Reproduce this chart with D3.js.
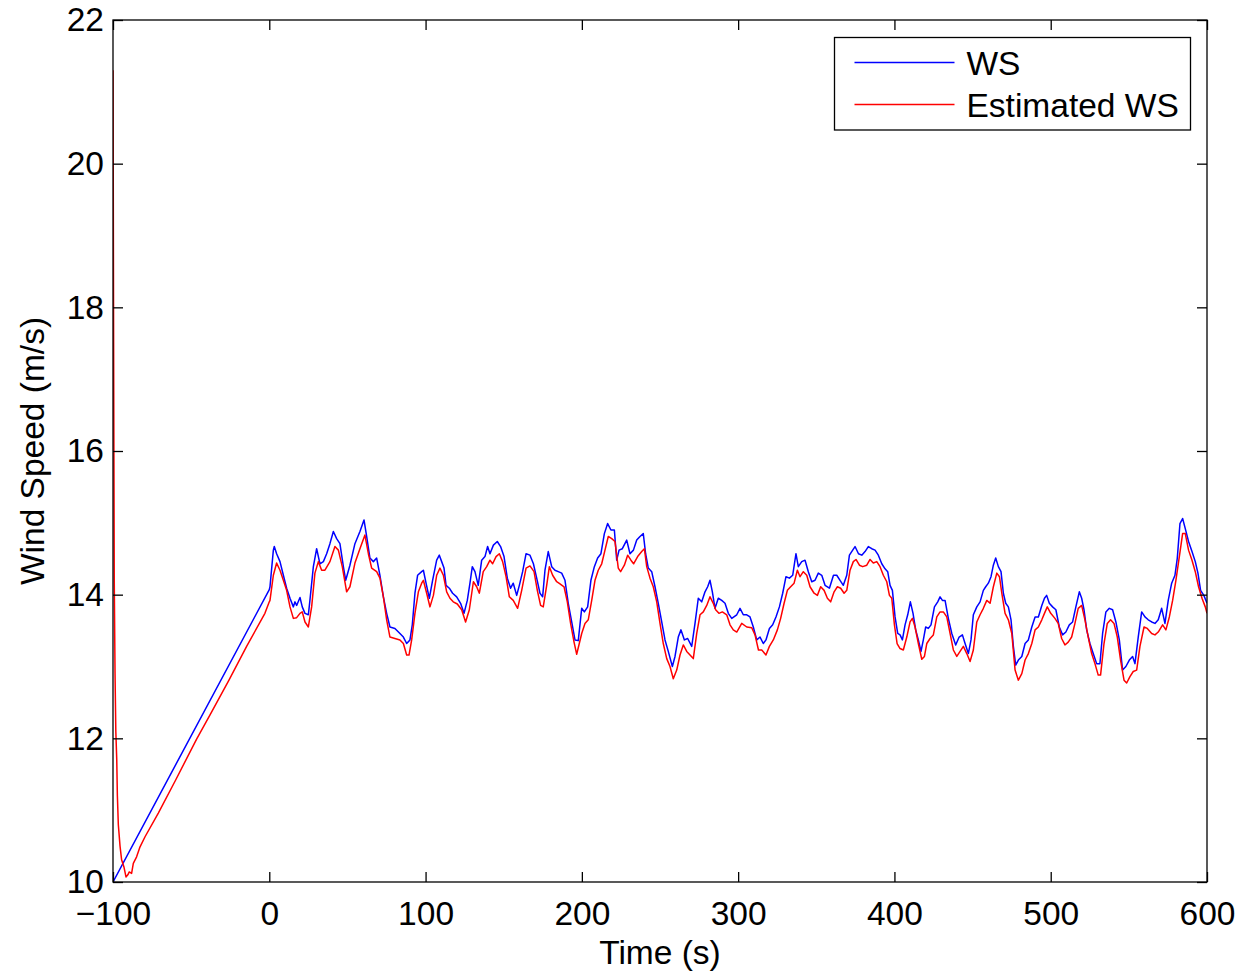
<!DOCTYPE html>
<html>
<head>
<meta charset="utf-8">
<script src="https://cdn.jsdelivr.net/npm/d3@7"></script>
<style>
  body { margin: 0; background: #fff; }
  svg { display: block; font-family: "Liberation Sans", Arial, sans-serif; }
</style>
</head>
<body>
<div id="grafico"></div>
<script>
// Serie medida (WS)
const tiempoWS = [-100, 0, 0.45, 2.6, 3.2, 4.7, 6.85, 9.0, 11.1, 13.25, 15.4, 16.45, 17.5, 19.65, 21.1, 22.85, 25.0, 26.0, 28.2, 30.3, 32.4, 34.6, 36.7, 38.8, 41.0, 43.1, 45.2, 47.4, 48.9, 51.6, 54.8, 58.0, 60.6, 62.3, 64.4, 66.6, 68.7, 70.8, 73.0, 75.1, 77.2, 80.4, 83.6, 85.8, 87.9, 90.0, 91.5, 93.2, 94.9, 97.5,
  98.6, 100.3, 102.4, 104.5, 107.1, 108.8, 110.3, 111.8, 113.1, 115.2, 117.3, 119.9, 122.4, 124.6, 126.7, 128.4, 129.9, 131.6, 133.7, 135.9, 138.0, 139.7, 141.2, 143.4, 145.9, 148.0, 150.2, 152.3, 154.4, 156.1, 158.3, 160.0, 162.1, 164.3, 166.8, 169.0, 171.1, 173.2, 174.9, 176.4, 178.5, 180.7, 182.8, 184.9, 187.1, 189.2, 191.3, 193.5, 195.6, 197.7,
  199.9, 201.6, 203.7, 205.8, 208.0, 210.1, 212.2, 214.4, 216.5, 218.6, 220.8, 222.3, 223.8, 225.9, 228.7, 230.8, 233.0, 235.1, 237.2, 239.3, 240.8, 242.5, 244.7, 246.8, 248.9, 251.1, 253.2, 255.3, 257.9, 259.6, 261.7, 263.4, 265.6, 267.7, 270.3, 272.4, 274.5, 276.7, 278.8, 280.5, 282.0, 283.5, 285.2, 287.3, 289.5, 291.6, 293.7, 295.9,
  299.1, 301.2, 303.3, 305.5, 307.6, 309.7, 311.9, 314.0, 316.1, 317.8, 320.0, 322.1, 324.2, 326.4, 328.5, 330.6, 332.8, 334.9, 337.0, 338.5, 340.7, 342.8, 344.9, 347.1, 349.2, 351.3, 353.5, 355.6, 358.4, 361.0, 363.1, 365.2, 367.3, 369.5, 371.2, 373.3, 374.8, 377.0, 379.1, 381.2, 383.3, 385.5, 387.6, 389.7, 391.9, 394.0, 395.7, 397.2, 398.7,
  400.4, 402.1, 403.6, 405.1, 406.8, 408.5, 410.2, 411.9, 413.6, 415.3, 417.0, 418.5, 420.0, 421.7, 423.4, 425.6, 427.7, 429.2, 430.7, 432.4, 434.5, 436.7, 439.2, 441.4, 443.5, 445.2, 447.3, 449.0, 450.5, 452.7, 454.8, 456.9, 458.4, 460.1, 461.8, 463.3, 464.8, 466.5, 468.2, 469.7, 471.2, 472.9, 474.6, 476.1, 477.6, 479.3, 481.5, 483.6, 485.7, 487.9, 490.0, 492.1, 494.3,
  496.0, 497.4, 499.1, 501.2, 503.3, 505.5, 507.6, 509.7, 511.9, 514.0, 516.1, 518.3, 519.8, 521.3, 523.0, 525.1, 527.2, 529.4, 531.5, 533.2, 535.3, 537.5, 539.6, 541.7, 543.9, 546.0, 548.1, 550.3, 552.4, 553.9, 556.0, 558.2, 560.3, 562.4, 564.6, 566.7, 568.8, 571.0, 573.1, 575.2, 577.4, 579.5, 581.0, 582.7, 584.4, 586.1, 588.2, 590.4, 592.5, 594.2, 595.9, 598.0, 600];
const valorWS = [10.0, 14.07, 14.11, 14.62, 14.67, 14.57, 14.46, 14.27, 14.09, 13.95, 13.83, 13.90, 13.85, 13.96, 13.83, 13.74, 13.72, 13.92, 14.39, 14.64, 14.43, 14.46, 14.57, 14.71, 14.88, 14.78, 14.71, 14.39, 14.20, 14.41, 14.71, 14.88, 15.04, 14.81, 14.51, 14.46, 14.51, 14.27, 13.97, 13.74, 13.55, 13.53, 13.46, 13.41, 13.32, 13.37, 13.58, 14.02, 14.27, 14.32,
  14.34, 14.16, 13.95, 14.20, 14.48, 14.55, 14.46, 14.37, 14.13, 14.09, 14.02, 13.97, 13.88, 13.74, 13.92, 14.16, 14.39, 14.32, 14.13, 14.48, 14.53, 14.67, 14.57, 14.69, 14.74, 14.67, 14.53, 14.23, 14.09, 14.16, 13.99, 14.13, 14.32, 14.57, 14.55, 14.43, 14.23, 14.02, 13.97, 14.34, 14.60, 14.39, 14.34, 14.32, 14.30, 14.20, 13.88, 13.62, 13.37, 13.36,
  13.81, 13.76, 13.83, 14.20, 14.39, 14.51, 14.57, 14.85, 14.99, 14.90, 14.90, 14.48, 14.62, 14.64, 14.76, 14.57, 14.62, 14.76, 14.81, 14.85, 14.57, 14.37, 14.32, 14.11, 13.88, 13.62, 13.37, 13.21, 13.00, 13.14, 13.41, 13.51, 13.37, 13.39, 13.28, 13.60, 13.95, 13.90, 14.04, 14.11, 14.20, 14.04, 13.81, 13.95, 13.92, 13.88, 13.74, 13.67,
  13.72, 13.81, 13.72, 13.72, 13.69, 13.55, 13.37, 13.41, 13.32, 13.37, 13.53, 13.58, 13.69, 13.83, 14.02, 14.25, 14.23, 14.27, 14.57, 14.39, 14.46, 14.48, 14.32, 14.18, 14.20, 14.30, 14.27, 14.13, 14.09, 14.27, 14.27, 14.20, 14.13, 14.27, 14.55, 14.62, 14.67, 14.57, 14.55, 14.60, 14.67, 14.64, 14.62, 14.55, 14.43, 14.36, 14.32, 14.13, 14.06,
  13.69, 13.46, 13.44, 13.37, 13.58, 13.72, 13.90, 13.74, 13.51, 13.37, 13.21, 13.37, 13.55, 13.53, 13.58, 13.83, 13.90, 13.97, 13.92, 13.92, 13.67, 13.46, 13.30, 13.41, 13.44, 13.32, 13.18, 13.37, 13.72, 13.83, 13.90, 14.06, 14.11, 14.16, 14.25, 14.41, 14.51, 14.39, 14.32, 14.02, 13.88, 13.83, 13.65, 13.28, 13.02, 13.09, 13.14, 13.32, 13.37, 13.55, 13.69, 13.69, 13.85,
  13.95, 13.99, 13.88, 13.83, 13.79, 13.55, 13.44, 13.48, 13.58, 13.62, 13.83, 14.04, 13.95, 13.79, 13.51, 13.32, 13.18, 13.04, 13.04, 13.46, 13.76, 13.81, 13.79, 13.62, 13.37, 12.95, 13.00, 13.09, 13.14, 13.04, 13.41, 13.76, 13.69, 13.65, 13.62, 13.60, 13.65, 13.81, 13.60, 13.92, 14.16, 14.27, 14.51, 14.99, 15.06, 14.92, 14.74, 14.60, 14.46, 14.30, 14.06, 13.99, 13.88];

// Serie estimada (Estimated WS)
const tiempoEst = [-100, -99.6, -99.2, -98.7, -98.2, -97.6, -97.2, -96.6, -95.5, -94.5, -93.0, -91.7, -90.5, -89.6, -88.1, -87.0, -84.9, -82.7, -79.5, -71.0, -59.9, -46.5, -37.3, -25.8, -14.5, -2.8, 0,
  0.45, 2.6, 4.7, 6.85, 9.0, 11.1, 13.25, 15.4, 17.5, 19.65, 21.1, 22.85, 25.0, 27.1, 29.2, 31.4, 33.5, 35.6, 38.8, 42.0, 44.2, 46.7, 49.5, 51.6, 54.8, 58.0, 61.2, 63.4, 65.5, 68.7, 70.8, 73.0, 75.1, 77.2, 80.4, 83.6, 85.8, 87.9, 89.4, 91.1, 93.2, 95.4, 97.5,
  98.6, 100.7, 102.8, 105.0, 107.1, 109.2, 111.4, 113.5, 115.6, 117.7, 120.3, 123.1, 125.6, 128.0, 130.6, 132.7, 134.4, 136.9, 139.1, 141.2, 142.9, 145.1, 147.2, 149.3, 151.5, 153.6, 156.1, 158.9, 161.5, 164.3, 166.8, 169.4, 171.5, 173.6, 175.3, 177.5, 179.2, 181.3, 183.9, 186.0, 188.6, 190.7, 192.8, 195.0, 196.7,
  199.9, 202.0, 204.1, 206.3, 208.4, 210.5, 212.7, 214.8, 216.9, 219.1, 221.2, 223.3, 224.8, 227.2, 229.3, 231.4, 233.1, 235.7, 238.3, 240.0, 241.5, 243.6, 245.7, 247.9, 250.0, 252.1, 254.3, 256.4, 258.5, 260.7, 262.8, 264.9, 267.1, 269.2, 271.3, 273.5, 275.6, 277.7, 279.9, 282.0, 284.1, 285.6, 287.7, 289.9, 292.7, 294.8,
  296.9, 299.1, 302.3, 305.5, 308.7, 310.8, 313.0, 315.1, 317.8, 320.0, 322.5, 325.1, 327.2, 329.4, 331.5, 333.6, 335.8, 337.9, 339.6, 341.7, 343.9, 346.0, 348.6, 350.7, 352.8, 355.0, 357.1, 359.2, 361.4, 363.5, 365.6, 367.8, 369.5, 371.6, 373.7, 375.4, 377.6, 379.7, 382.3, 384.4, 386.5, 388.7, 390.8, 392.9, 395.1,
  396.8, 398.3, 400.0, 401.7, 403.6, 405.7, 407.9, 410.0, 411.5, 413.2, 415.3, 417.5, 419.2, 420.7, 422.8, 424.9, 427.1, 429.2, 431.3, 433.5, 435.6, 437.7, 439.9, 442.0, 444.1, 446.3, 448.4, 450.5, 452.7, 454.8, 456.9, 459.1, 461.2, 463.3, 465.5, 467.2, 468.7, 470.8, 472.9, 475.1, 477.2, 479.3, 481.5, 483.6, 485.7, 487.9, 490.0, 492.1, 494.3,
  496.0, 497.8, 500.0, 502.7, 504.8, 507.0, 509.1, 511.2, 513.4, 515.5, 517.6, 519.8, 521.9, 524.0, 526.2, 528.3, 530.4, 531.9, 534.1, 536.2, 538.3, 540.5, 542.6, 544.7, 546.9, 548.6, 550.7, 552.8, 555.0, 557.1, 559.7, 561.8, 564.6, 566.7, 568.8, 571.6, 573.7, 575.9, 578.0, 580.1, 582.3, 584.4, 586.1, 588.2, 590.4, 592.5, 594.6, 596.8, 598.9, 600];
const valorEst = [21.3, 17.5, 14.2, 12.9, 12.1, 11.7, 11.2, 10.8, 10.5, 10.31, 10.21, 10.07, 10.10, 10.14, 10.12, 10.26, 10.35, 10.49, 10.63, 10.96, 11.42, 11.99, 12.35, 12.81, 13.28, 13.74, 13.90,
  13.92, 14.27, 14.44, 14.34, 14.20, 14.06, 13.83, 13.67, 13.68, 13.74, 13.76, 13.62, 13.55, 13.83, 14.30, 14.46, 14.34, 14.34, 14.46, 14.67, 14.62, 14.39, 14.04, 14.11, 14.44, 14.64, 14.83, 14.57, 14.37, 14.32, 14.23, 13.97, 13.65, 13.41, 13.39, 13.37, 13.32, 13.16, 13.16, 13.37, 13.74, 14.04, 14.16,
  14.20, 14.02, 13.83, 13.99, 14.27, 14.37, 14.27, 14.04, 13.95, 13.90, 13.87, 13.79, 13.62, 13.79, 14.18, 14.11, 14.02, 14.32, 14.39, 14.48, 14.43, 14.53, 14.57, 14.46, 14.25, 13.97, 13.92, 13.81, 14.06, 14.37, 14.40, 14.32, 14.06, 13.85, 13.83, 14.13, 14.39, 14.27, 14.18, 14.15, 14.11, 13.90, 13.60, 13.34, 13.17,
  13.46, 13.60, 13.65, 13.92, 14.20, 14.34, 14.43, 14.62, 14.81, 14.78, 14.74, 14.37, 14.32, 14.41, 14.55, 14.48, 14.43, 14.53, 14.60, 14.64, 14.39, 14.23, 14.11, 13.90, 13.60, 13.32, 13.11, 13.00, 12.83, 12.95, 13.16, 13.30, 13.21, 13.16, 13.11, 13.46, 13.72, 13.76, 13.85, 13.97, 13.88, 13.79, 13.74, 13.76, 13.72, 13.58,
  13.51, 13.48, 13.60, 13.55, 13.54, 13.44, 13.23, 13.23, 13.16, 13.28, 13.37, 13.51, 13.67, 13.88, 14.06, 14.11, 14.16, 14.34, 14.25, 14.32, 14.27, 14.11, 14.02, 13.99, 14.11, 14.06, 13.95, 13.90, 14.04, 14.11, 14.09, 14.02, 14.06, 14.34, 14.46, 14.49, 14.41, 14.39, 14.41, 14.49, 14.44, 14.46, 14.39, 14.27, 14.18,
  13.99, 13.95, 13.58, 13.32, 13.25, 13.23, 13.41, 13.62, 13.67, 13.55, 13.32, 13.10, 13.14, 13.32, 13.39, 13.44, 13.69, 13.76, 13.76, 13.69, 13.46, 13.23, 13.14, 13.21, 13.28, 13.18, 13.07, 13.23, 13.62, 13.72, 13.81, 13.92, 13.88, 14.11, 14.30, 14.25, 14.02, 13.74, 13.65, 13.46, 12.95, 12.81, 12.90, 13.09, 13.18, 13.32, 13.51, 13.55, 13.65,
  13.74, 13.83, 13.74, 13.67, 13.60, 13.39, 13.30, 13.34, 13.41, 13.60, 13.81, 13.85, 13.65, 13.41, 13.18, 13.04, 12.88, 12.88, 13.32, 13.60, 13.65, 13.60, 13.41, 13.09, 12.81, 12.77, 12.86, 12.93, 12.95, 13.28, 13.55, 13.53, 13.46, 13.44, 13.48, 13.58, 13.51, 13.69, 13.92, 14.20, 14.53, 14.85, 14.85, 14.62, 14.48, 14.32, 14.11, 13.95, 13.83, 13.74];

const ticksX = [-100, 0, 100, 200, 300, 400, 500, 600];
const ticksY = [10, 12, 14, 16, 18, 20, 22];
const nombresLeyenda = ["WS", "Estimated WS"];
const coloresSeries = ["#0000ff", "#ff0000"];

const ancho = 1241, alto = 975;
const margen = { izq: 113, arriba: 20, der: 34, abajo: 93 };
const fuente = 33.5;

const $svg = d3.select("#grafico")
    .append("svg")
    .attr("width", ancho)
    .attr("height", alto);

const x = d3.scaleLinear().domain([-100, 600]).range([margen.izq, ancho - margen.der]);
const y = d3.scaleLinear().domain([10, 22]).range([alto - margen.abajo, margen.arriba]);

$svg.append("defs").append("clipPath").attr("id", "recorte")
    .append("rect")
    .attr("x", margen.izq).attr("y", margen.arriba)
    .attr("width", x(600) - x(-100)).attr("height", y(10) - y(22));

const linea = d3.line().x(d => x(d[0])).y(d => y(d[1]));
const series = [
    d3.zip(tiempoWS, valorWS),
    d3.zip(tiempoEst, valorEst)
];

const gSeries = $svg.append("g").attr("clip-path", "url(#recorte)");
series.forEach((datos, i) => {
    gSeries.append("path")
        .datum(datos)
        .attr("d", linea)
        .attr("fill", "none")
        .attr("stroke", coloresSeries[i])
        .attr("stroke-width", 1.5)
        .attr("stroke-linejoin", "round");
});

// ejes estilo MATLAB: marcas hacia dentro en los cuatro lados
const estiloEje = g => {
    g.select(".domain").remove();
    g.selectAll("line").attr("stroke", "#000").attr("stroke-width", 1.3);
    g.selectAll("text").attr("font-size", fuente).attr("fill", "#000");
};
const fmt = d3.format("d");

$svg.append("g")
    .attr("transform", `translate(0,${y(10)})`)
    .call(d3.axisBottom(x).tickValues(ticksX).tickFormat(fmt).tickSizeInner(-10).tickSizeOuter(0).tickPadding(19))
    .call(estiloEje);
$svg.append("g")
    .attr("transform", `translate(0,${y(22)})`)
    .call(d3.axisTop(x).tickValues(ticksX).tickFormat("").tickSizeInner(-10).tickSizeOuter(0))
    .call(estiloEje);
$svg.append("g")
    .attr("transform", `translate(${x(-100)},0)`)
    .call(d3.axisLeft(y).tickValues(ticksY).tickFormat(fmt).tickSizeInner(-10).tickSizeOuter(0).tickPadding(9))
    .call(estiloEje);
$svg.append("g")
    .attr("transform", `translate(${x(600)},0)`)
    .call(d3.axisRight(y).tickValues(ticksY).tickFormat("").tickSizeInner(-10).tickSizeOuter(0))
    .call(estiloEje);

// caja
$svg.append("rect")
    .attr("x", x(-100)).attr("y", y(22))
    .attr("width", x(600) - x(-100)).attr("height", y(10) - y(22))
    .attr("fill", "none").attr("stroke", "#000").attr("stroke-width", 1.3);

// títulos de ejes
$svg.append("text")
    .attr("x", (x(-100) + x(600)) / 2)
    .attr("y", 964)
    .attr("text-anchor", "middle")
    .attr("font-size", fuente)
    .text("Time (s)");
$svg.append("text")
    .attr("transform", `translate(44,${(y(10) + y(22)) / 2}) rotate(-90)`)
    .attr("text-anchor", "middle")
    .attr("font-size", fuente)
    .text("Wind Speed (m/s)");

// leyenda
const leyenda = $svg.append("g").attr("transform", "translate(834.5,37.5)");
leyenda.append("rect")
    .attr("width", 356).attr("height", 92.5)
    .attr("fill", "#fff").attr("stroke", "#000").attr("stroke-width", 1.3);
nombresLeyenda.forEach((nombre, i) => {
    const yy = 25 + i * 42;
    leyenda.append("line")
        .attr("x1", 20).attr("x2", 120).attr("y1", yy).attr("y2", yy)
        .attr("stroke", coloresSeries[i]).attr("stroke-width", 1.5);
    leyenda.append("text")
        .attr("x", 132).attr("y", yy + 12)
        .attr("font-size", fuente)
        .text(nombre);
});
</script>
</body>
</html>
